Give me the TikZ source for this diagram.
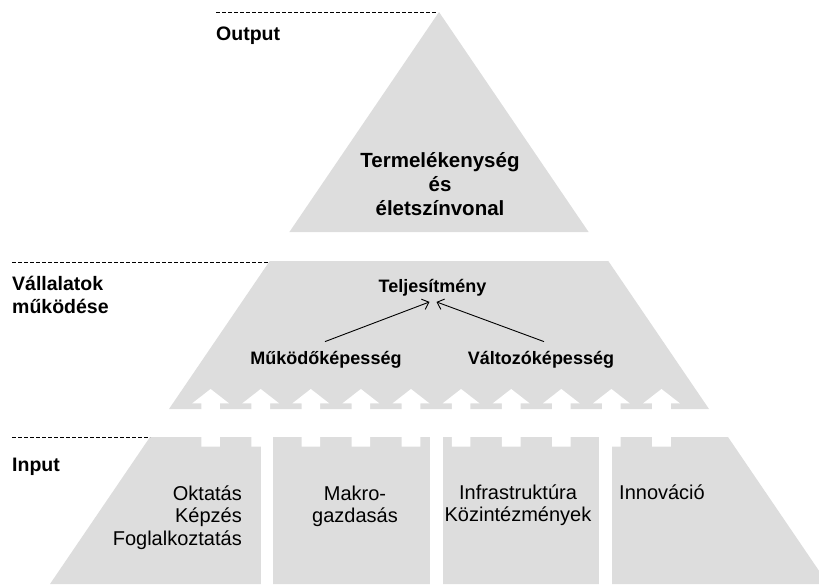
\documentclass[tikz,border=0pt]{standalone}
\usepackage{fontspec}
\setmainfont{Liberation Sans}
\usetikzlibrary{arrows.meta}
\definecolor{pyrgray}{RGB}{221,221,221}
\begin{document}
\begin{tikzpicture}[x=1pt,y=-1pt,
  block/.style={fill=pyrgray, draw=none},
  gapbar/.style={fill=white, draw=none},
  uparrow/.style={fill=white, draw=none},
  levelline/.style={draw=black, line width=1pt, dash pattern=on 4pt off 2pt},
  sidelabel/.style={font=\bfseries\fontsize{19.5}{22}\selectfont, inner sep=0pt, anchor=base west},
  toplabel/.style={font=\bfseries\fontsize{20.5}{23}\selectfont, inner sep=0pt, anchor=base},
  midlabel/.style={font=\bfseries\fontsize{18}{20}\selectfont, inner sep=0pt, anchor=base},
  factor/.style={font=\fontsize{20}{22}\selectfont, inner sep=0pt},
  link/.style={draw=black, line width=0.9pt, -{Straight Barb[length=6pt,width=11pt]}}
]
\useasboundingbox (0,0) rectangle (819,584);

\begin{scope}
  \clip (0,0) rectangle (819,584);
  % three levels of the pyramid
  \fill[block] (439,12) -- (588.6,232) -- (289.4,232) -- cycle;
  \fill[block] (269.7,261) -- (608.3,261) -- (709,409) -- (169,409) -- cycle;
  \fill[block] (150,437) -- (728,437) -- (828,584) -- (50,584) -- cycle;
  % gaps between the input columns
  \fill[gapbar] (261,437) rectangle (273,585);
  \fill[gapbar] (430,437) rectangle (443,585);
  \fill[gapbar] (599,437) rectangle (612,585);
  % white upward arrows from the inputs into the middle level
  \foreach \i in {0,...,9} {
    \pgfmathsetmacro\cx{210.6+50.1*\i}
    \fill[uparrow] (\cx-9.3,446.5) -- (\cx-9.3,403.4) -- (\cx-18.5,403.4)
      -- (\cx,389) -- (\cx+18.5,403.4) -- (\cx+9.3,403.4) -- (\cx+9.3,446.5) -- cycle;
  }
\end{scope}

% dashed level markers
\draw[levelline] (216,12) -- (437,12);
\draw[levelline] (12,262) -- (268,262);
\draw[levelline] (12,437) -- (150,437);

% level names
\node[sidelabel] (output) at (216,40) {Output};
\node[sidelabel] (vall1) at (12,290) {Vállalatok};
\node[sidelabel] (vall2) at (12,313) {működése};
\node[sidelabel] (input) at (12,471) {Input};

% top level
\node[toplabel] (top1) at (440,167) {Termelékenység};
\node[toplabel] (top2) at (440,191) {és};
\node[toplabel] (top3) at (440,215) {életszínvonal};

% middle level
\node[midlabel] (telj) at (432.5,292) {Teljesítmény};
\node[midlabel] (mukodo) at (326,364) {Működőképesség};
\node[midlabel] (valtozo) at (541,364) {Változóképesség};
\draw[link] ([xshift=-1pt,yshift=9pt]mukodo.north) -- ([xshift=-3pt,yshift=-6pt]telj.south);
\draw[link] ([xshift=3pt,yshift=9pt]valtozo.north) -- ([xshift=4pt,yshift=-6pt]telj.south);

% input factors
\node[factor, anchor=base east] (okt) at (242,500) {Oktatás};
\node[factor, anchor=base east] (kep) at (242,522.5) {Képzés};
\node[factor, anchor=base east] (fog) at (242,545) {Foglalkoztatás};
\node[factor, anchor=base] (mak1) at (355,500) {Makro-};
\node[factor, anchor=base] (mak2) at (355,522.5) {gazdasás};
\node[factor, anchor=base] (inf) at (518,499) {Infrastruktúra};
\node[factor, anchor=base] (koz) at (518,521.5) {Közintézmények};
\node[factor, anchor=base west] (inn) at (619,499) {Innováció};
\end{tikzpicture}
\end{document}
